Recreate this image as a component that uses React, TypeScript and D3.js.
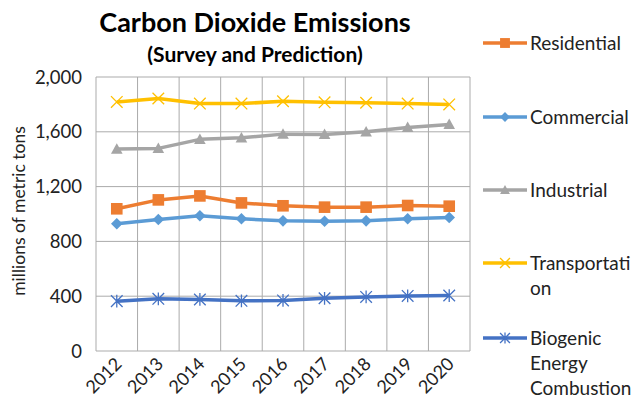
import React from 'react'
import * as d3 from 'd3'

const years = ['2012', '2013', '2014', '2015', '2016', '2017', '2018', '2019', '2020']
const residential = [1038, 1103, 1132, 1081, 1060, 1050, 1050, 1062, 1057]
const commercial = [929, 960, 987, 965, 950, 947, 950, 965, 975]
const industrial = [1474, 1479, 1545, 1556, 1583, 1581, 1600, 1632, 1654]
const transportation = [1818, 1843, 1806, 1806, 1823, 1815, 1812, 1806, 1800]
const biogenic = [364, 381, 376, 366, 369, 385, 395, 402, 405]
const yTicks = [0, 400, 800, 1200, 1600, 2000]

const series = [
  { name: ['Residential'], values: residential, color: '#ED7D31', marker: 'square' },
  { name: ['Commercial'], values: commercial, color: '#5B9BD5', marker: 'diamond' },
  { name: ['Industrial'], values: industrial, color: '#A5A5A5', marker: 'triangle' },
  { name: ['Transportati', 'on'], values: transportation, color: '#FFC000', marker: 'x' },
  { name: ['Biogenic', 'Energy', 'Combustion'], values: biogenic, color: '#4472C4', marker: 'star' },
]

const font = 'Lato, "Open Sans", sans-serif'
const grid = '#ABABAB'

function Marker({ type, x, y, color, size = 1 }) {
  const s = 5.8 * size
  if (type === 'square') return <rect x={x - s} y={y - s} width={s * 2} height={s * 2} fill={color} />
  if (type === 'diamond') return <path d={`M${x},${y - s}L${x + s},${y}L${x},${y + s}L${x - s},${y}Z`} fill={color} />
  if (type === 'triangle') return <path d={`M${x},${y - s}L${x + s},${y + s * 0.8}L${x - s},${y + s * 0.8}Z`} fill={color} />
  if (type === 'x') return <path d={`M${x - s},${y - s}L${x + s},${y + s}M${x - s},${y + s}L${x + s},${y - s}`} stroke={color} strokeWidth={1.3} />
  return <path d={`M${x - s},${y - s}L${x + s},${y + s}M${x - s},${y + s}L${x + s},${y - s}M${x},${y - s * 1.1}L${x},${y + s * 1.1}`} stroke={color} strokeWidth={1.3} />
}

export default function App() {
  const left = 96, right = 470, top = 77, bottom = 351
  const x = d3.scaleBand().domain(years).range([left, right]).padding(0)
  const y = d3.scaleLinear().domain([0, 2000]).range([bottom, top])
  const cx = (yr: string) => x(yr)! + x.bandwidth() / 2
  const line = d3.line<number>().x((d, i) => cx(years[i])).y(d => y(d))
  const fmt = d3.format(',')

  const legendY = [43, 117, 190, 263, 338]

  return (
    <svg width={634} height={408} style={{ position: 'absolute', left: 0, top: 0, background: '#fff' }} fontFamily={font}>
      <text x={255} y={32} textAnchor="middle" fontSize={27} fontWeight="bold">Carbon Dioxide Emissions</text>
      <text x={255} y={62} textAnchor="middle" fontSize={21} fontWeight="bold">(Survey and Prediction)</text>

      {yTicks.map(t => (
        <g key={t}>
          <line x1={left} x2={right} y1={y(t)} y2={y(t)} stroke={grid} strokeWidth={1} />
          <text x={82} y={y(t) + 6.5} textAnchor="end" fontSize={18.5} fill="#222">{fmt(t)}</text>
        </g>
      ))}
      {[...years.map(yr => x(yr)!), right].map((gx, i) => (
        <line key={i} x1={gx} x2={gx} y1={top} y2={bottom} stroke={grid} strokeWidth={1} />
      ))}
      {years.map(yr => (
        <text key={yr} transform={`translate(${cx(yr) + 6},${bottom + 14}) rotate(-45)`} textAnchor="end" fontSize={18} fill="#222">{yr}</text>
      ))}
      <text transform={`translate(25,${(top + bottom) / 2 - 3}) rotate(-90)`} textAnchor="middle" fontSize={17.5} fill="#222">millions of metric tons</text>

      {series.map(s => (
        <g key={s.name[0]}>
          <path d={line(s.values)!} fill="none" stroke={s.color} strokeWidth={3.5} strokeLinejoin="round" />
          {s.values.map((v, i) => <Marker key={i} type={s.marker} x={cx(years[i])} y={y(v)} color={s.color} />)}
        </g>
      ))}

      {series.map((s, k) => (
        <g key={s.name[0]}>
          <line x1={483} x2={527} y1={legendY[k]} y2={legendY[k]} stroke={s.color} strokeWidth={3.5} />
          <Marker type={s.marker} x={505} y={legendY[k]} color={s.color} size={0.85} />
          <text x={530} y={legendY[k] + 6.5} fontSize={19} fill="#222">
            {s.name.map((n, j) => <tspan key={j} x={530} dy={j === 0 ? 0 : 25}>{n}</tspan>)}
          </text>
        </g>
      ))}
    </svg>
  )
}
